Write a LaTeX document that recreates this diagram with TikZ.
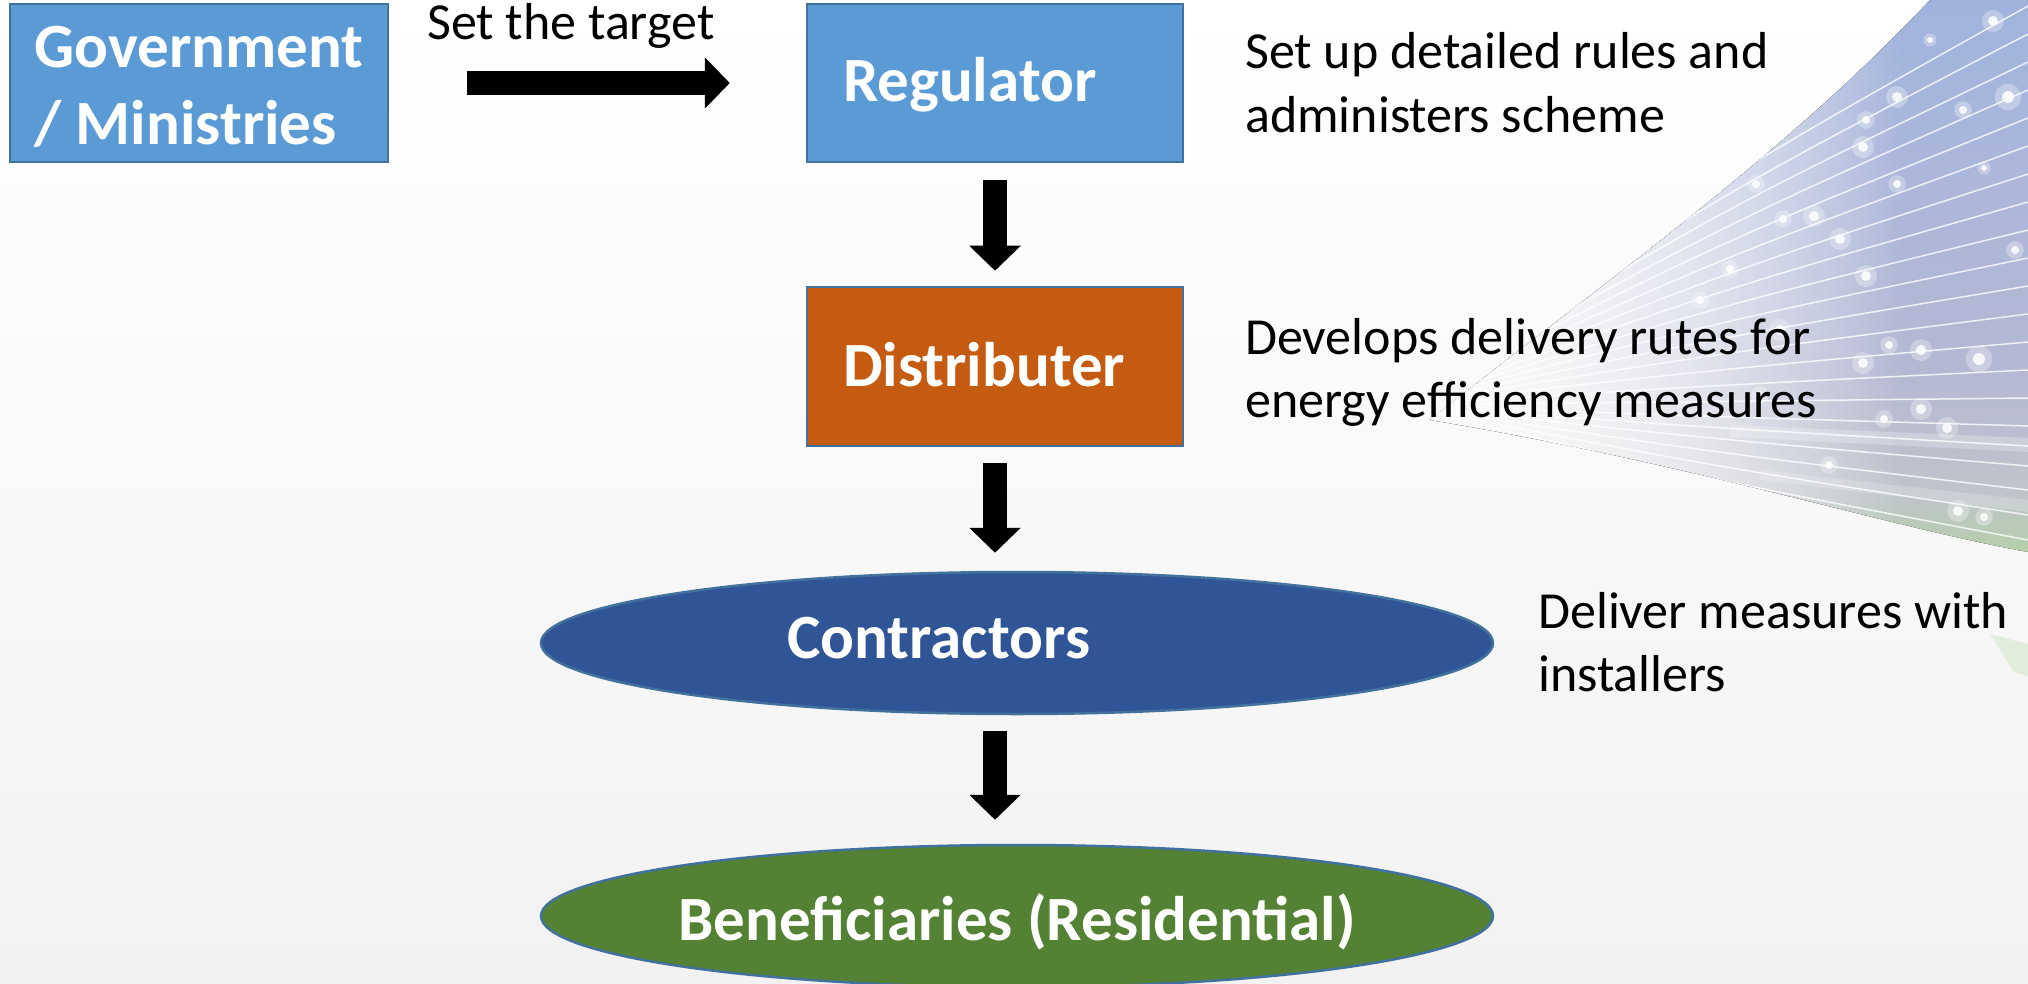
\documentclass[tikz,border=0pt]{standalone}
\usepackage{fontspec}
\setmainfont{Carlito}
\usetikzlibrary{arrows.meta,shapes.geometric}
\definecolor{boxblue}{HTML}{5B9BD5}
\definecolor{edgeblue}{HTML}{41719C}
\definecolor{distorange}{HTML}{C55A11}
\definecolor{conblue}{HTML}{2F5597}
\definecolor{bengreen}{HTML}{548235}
\definecolor{swa}{HTML}{CFE5C2}
\definecolor{swb}{HTML}{B6D6A5}
\definecolor{swc}{HTML}{B3D1A6}
\definecolor{swd}{HTML}{C0C4CA}
\definecolor{swe}{HTML}{B5B8D3}
\definecolor{swf}{HTML}{ABB7DB}
\definecolor{swg}{HTML}{9CB2DD}
\definecolor{swh}{HTML}{88A6D7}
\definecolor{bggray}{HTML}{F2F2F2}
\definecolor{bgmid}{HTML}{F9F9F9}
\pgfdeclareverticalshading{swooshshade}{100bp}{color(0bp)=(swa); color(10bp)=(swb); color(25bp)=(swc); color(31bp)=(swd); color(42bp)=(swe); color(60bp)=(swf); color(80bp)=(swg); color(100bp)=(swh)}
\tikzset{
 bigfont/.style={font=\fontsize{63}{77}\selectfont\bfseries},
 notefont/.style={font=\fontsize{52}{63.5}\selectfont},
 box/.style={rectangle, draw=edgeblue, line width=2.5pt, text=white, bigfont, minimum height=158pt, inner sep=0pt},
 oval/.style={ellipse, draw=edgeblue, line width=2.5pt, text=white, bigfont, minimum width=952pt, minimum height=142pt, inner sep=0pt},
 note/.style={notefont, anchor=base west, inner sep=0pt, text=black},
 blockarrow/.style={draw=black, line width=24pt, -{Triangle[width=50pt,length=25pt]}},
 swline/.style={draw=white, line width=1.5pt, opacity=0.8},
}
\begin{document}
\begin{tikzpicture}[x=1pt,y=-1pt]
\useasboundingbox (0,0) rectangle (2028,984);
\fill[top color=white, bottom color=bggray] (0,0) rectangle (2028,984);
% decorative swoosh, fading to the left in pre-mixed strips
\begin{scope}
\clip (1430,420) .. controls (1580,300) and (1780,160) .. (1930,0) -- (2028,0) -- (2028,552) .. controls (1880,525) and (1700,465) .. (1430,420) -- cycle;
\fill[shading=swooshshade] (1900,0) rectangle (2028,560);
\foreach \i in {0,...,59} {
  \pgfmathsetmacro{\p}{100*((\i+0.5)/60)^2}
  \pgfdeclareverticalshading{swstrip\i}{100bp}{color(0bp)=(swa!\p!bgmid); color(10bp)=(swb!\p!bgmid); color(25bp)=(swc!\p!bgmid); color(31bp)=(swd!\p!bgmid); color(42bp)=(swe!\p!bgmid); color(60bp)=(swf!\p!bgmid); color(80bp)=(swg!\p!bgmid); color(100bp)=(swh!\p!bgmid)}
  \fill[shading=swstrip\i] ({1420+8*\i},0) rectangle ({1428.6+8*\i},560);
}
\fill[white, opacity=0.25] (1730,425) -- (2028,438) -- (2028,452) -- (1730,437) -- cycle;
\fill[white, opacity=0.2] (1760,470) -- (2028,500) -- (2028,512) -- (1760,480) -- cycle;
\foreach \yr in {6,34,62,90,118,146,174,202,230,258,286,314,342,370,398,426,446,466,490,515,540} {
  \draw[swline] (1400,405) .. controls (1714,{405+(\yr-405)*0.56}) .. (2028,\yr);
}
\foreach \px/\py/\r in {1993/21/5,2008/97/6,1897/97/5,1866/120/4,1863/147/5,1897/184/4,1814/216/5,1783/219/4,1840/239/5,1730/269/4,1866/276/5,1979/359/6,1921/350/5,1889/345/4,1863/363/5,1921/409/5,1884/419/4,1947/428/5,1829/465/4,1958/511/5,1984/517/4,1756/184/4,1963/110/4,1984/168/3,1700/300/4,2015/250/4,1930/40/3,1780/330/5,1760/395/4}{
  \fill[white, opacity=0.3] (\px,\py) circle ({2.2*\r});
  \fill[white, opacity=0.85] (\px,\py) circle (\r);
}
\end{scope}
\fill[swb, opacity=0.3] (1990,634) -- (2028,644) -- (2028,676) -- (2014,672) -- cycle;
% nodes
\node[box, fill=boxblue, minimum width=378pt, text height=40pt, text depth=70pt] (gov) at (199,83)
  {\begin{tabular}[t]{@{}l@{}}Government\\/ Ministries\end{tabular}};
\node[box, fill=boxblue, minimum width=376pt, text width=304pt, align=left, text height=50pt, text depth=12pt] (reg) at (995,83) {Regulator};
\node[box, fill=distorange, minimum width=376pt, minimum height=159pt, text width=304pt, align=left, text height=52pt, text depth=12pt] (dist) at (995,366.5) {Distributer};
\node[oval, fill=conblue, text width=459pt, align=left, text height=45pt, text depth=15pt] (con) at (1017,643) {Contractors};
\node[oval, fill=bengreen, text height=60pt, text depth=12pt] (ben) at (1017,916) {\makebox[0pt]{Beneficiaries (Residential)}};
% texts
\node[note] (target) at (427,40) {Set the target};
\node[note] (n1) at (1245,69) {\begin{tabular}[t]{@{}l@{}}Set up detailed rules and\\administers scheme\end{tabular}};
\node[note] (n2) at (1245,354) {\begin{tabular}[t]{@{}l@{}}Develops delivery rutes for\\energy efficiency measures\end{tabular}};
\node[note] (n3) at (1538,628) {\begin{tabular}[t]{@{}l@{}}Deliver measures with\\installers\end{tabular}};
% arrows
\draw[blockarrow, shorten <=78pt, shorten >=76pt] (gov.east) -- (reg.west);
\draw[blockarrow, shorten <=17pt, shorten >=15pt] (reg.south) -- (dist.north);
\draw[blockarrow, shorten <=16pt, shorten >=18pt] (dist.south) -- (dist.south |- con.north);
\draw[blockarrow, shorten <=16pt, shorten >=24pt] (dist.south |- con.south) -- (dist.south |- ben.north);
\end{tikzpicture}
\end{document}
